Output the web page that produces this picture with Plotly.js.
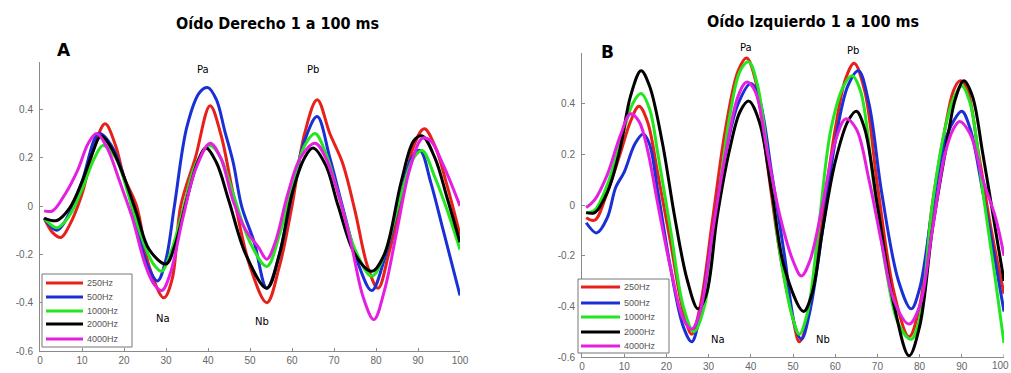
<!DOCTYPE html>
<html>
<head>
<meta charset="utf-8">
<script src="https://cdn.plot.ly/plotly-3.0.1.min.js"></script>
<style>html,body{margin:0;padding:0;background:#fff;}#chart{width:1011px;height:373px;}</style>
</head>
<body>
<div id="chart"></div>
<script>
// ---------- DATA ----------
const seriesNames = ["250Hz", "500Hz", "1000Hz", "2000Hz", "4000Hz"];
const seriesColors = ["#e8201a", "#1a2fd6", "#22e61e", "#000000", "#e41fe0"];
const titleA = "Oído Derecho 1 a 100 ms";
const titleB = "Oído Izquierdo 1 a 100 ms";
const xTicks = [0, 10, 20, 30, 40, 50, 60, 70, 80, 90, 100];
const yTicks = [-0.6, -0.4, -0.2, 0, 0.2, 0.4];
const yTickText = ["-0.6", "-0.4", "-0.2", "0", "0.2", "0.4"];

// Panel A (Oído Derecho)
const A_250_x = [1,3,5,7,10,13,15.5,18,20,23,26,29.5,31.5,33.5,37,40.5,43,46,50,54,57,60,63,66,69,72,75,78,80.5,83,86,89,91.5,94,97,100];
const A_250_y = [-0.05,-0.11,-0.13,-0.08,0.05,0.25,0.34,0.25,0.12,0.0,-0.25,-0.38,-0.3,0.0,0.2,0.415,0.3,0.05,-0.25,-0.40,-0.25,0.0,0.3,0.44,0.3,0.18,-0.02,-0.25,-0.34,-0.2,0.02,0.25,0.32,0.25,0.08,-0.12];
const A_500_x = [1,4,7,10,14,17,20,23,25.5,28,30,32,35,38,40,42,44,46,48,51,54,57,60,63,66,69,72,76,79,82,86,88.5,90.5,93,96,100];
const A_500_y = [-0.05,-0.1,-0.03,0.1,0.3,0.25,0.12,-0.08,-0.24,-0.31,-0.22,0.0,0.33,0.47,0.49,0.44,0.31,0.18,0.0,-0.15,-0.34,-0.2,0.05,0.27,0.37,0.2,0.0,-0.25,-0.35,-0.22,0.05,0.2,0.23,0.1,-0.1,-0.37];
const A_1000_x = [1,4,7,10,13,15,18,21,24,27,29,31,34,37,40.5,43,46,50,54,57,60,63,65.5,68,71,75,79,82,86,89,91,94,97,100];
const A_1000_y = [-0.05,-0.09,-0.04,0.07,0.2,0.25,0.2,0.05,-0.12,-0.24,-0.27,-0.2,-0.02,0.17,0.25,0.2,0.05,-0.15,-0.25,-0.12,0.08,0.25,0.3,0.22,0.05,-0.18,-0.29,-0.2,0.05,0.2,0.23,0.12,-0.02,-0.18];
const A_2000_x = [1,4,7,10,12.5,14.5,17,20,23,26,30,32,35,37.5,39.5,42,45,49,54,57,60,63,65,68,71,75,79,82,86,89,91,94,97,100];
const A_2000_y = [-0.05,-0.06,-0.01,0.1,0.22,0.29,0.24,0.12,-0.03,-0.18,-0.24,-0.17,0.03,0.18,0.24,0.18,0.02,-0.2,-0.34,-0.2,0.05,0.2,0.24,0.17,0.0,-0.2,-0.27,-0.2,0.1,0.27,0.29,0.2,0.03,-0.15];
const A_4000_x = [1,3,6,9,11.5,13.5,16,19,22,25,27,29,31,34,37,40.5,43,46,49,52,54,56,59,62,65.5,68,71,74,77,79.5,82,85,88,91,93,96,100];
const A_4000_y = [-0.02,-0.02,0.05,0.15,0.26,0.3,0.24,0.1,-0.05,-0.24,-0.32,-0.35,-0.28,-0.05,0.15,0.26,0.2,0.02,-0.1,-0.17,-0.22,-0.15,0.05,0.2,0.26,0.2,0.05,-0.15,-0.38,-0.47,-0.35,-0.1,0.15,0.28,0.27,0.17,0.0];

// Panel B (Oído Izquierdo)
const B_250_x = [1,3,6,9,11.5,13.5,15.5,18,21,24,26,28,31,34,37,39,41,44,47,50,51.5,53.5,57,60,62.5,64.5,67,70,74,77.5,80,83,86,88,89.5,91,94,97,100];
const B_250_y = [-0.05,-0.06,0.05,0.2,0.33,0.39,0.33,0.12,-0.15,-0.42,-0.51,-0.4,-0.05,0.3,0.53,0.58,0.5,0.15,-0.2,-0.45,-0.54,-0.45,-0.05,0.3,0.5,0.56,0.45,0.08,-0.35,-0.52,-0.4,0.0,0.3,0.45,0.49,0.47,0.2,-0.1,-0.35];
const B_500_x = [1,3.5,6,8,10,12.5,14.5,16,18,21,24,26,28,31,34,37,40,42,45,48,50.5,52,54,57,60,63,65.5,68,71,75,78,80,83,86,88,90,92,95,100];
const B_500_y = [-0.07,-0.11,-0.05,0.07,0.13,0.24,0.28,0.24,0.05,-0.25,-0.48,-0.54,-0.43,-0.1,0.2,0.4,0.48,0.42,0.12,-0.2,-0.48,-0.53,-0.42,-0.1,0.25,0.47,0.53,0.4,0.05,-0.3,-0.41,-0.33,-0.02,0.25,0.33,0.37,0.3,0.05,-0.42];
const B_1000_x = [1,3,6,9,12,14,16,18,21,24,26.5,29,32,35,37.5,39.5,41.5,44,47,50,51.5,53.5,56,59,62,64,66,69,72,75,78,80,83,86,88,90,92,95,98,100];
const B_1000_y = [-0.03,-0.02,0.08,0.24,0.4,0.44,0.38,0.2,-0.1,-0.4,-0.5,-0.4,-0.02,0.35,0.53,0.565,0.48,0.2,-0.2,-0.45,-0.51,-0.42,-0.1,0.3,0.47,0.51,0.45,0.1,-0.25,-0.47,-0.53,-0.45,0.0,0.3,0.42,0.47,0.4,0.05,-0.3,-0.545];
const B_2000_x = [1,3,6,9,11.5,14,16,19,22,25,27.5,29.5,32,35,37.5,39.5,42,45,48,52.5,54.5,57,60,63,65,67,70,74,77.5,80,83,86,88.5,90.5,92.5,95,98,100];
const B_2000_y = [-0.03,-0.03,0.05,0.22,0.43,0.53,0.47,0.25,-0.05,-0.3,-0.41,-0.35,-0.05,0.22,0.37,0.41,0.33,0.05,-0.25,-0.42,-0.35,-0.1,0.17,0.33,0.37,0.3,0.0,-0.4,-0.595,-0.48,-0.1,0.2,0.42,0.49,0.43,0.2,-0.1,-0.3];
const B_4000_x = [1,3,6,9,11.5,13.5,15.5,18,21,24,26,28,31,34,37,39,41,44,47,50,52,54,57,60,62.5,65,68,71,74,77.5,80,83,86,88,89.5,92,95,98,100];
const B_4000_y = [-0.01,0.02,0.12,0.27,0.36,0.33,0.22,0.0,-0.25,-0.45,-0.49,-0.42,-0.1,0.2,0.43,0.485,0.45,0.2,-0.05,-0.22,-0.28,-0.22,0.0,0.25,0.34,0.3,0.1,-0.15,-0.38,-0.47,-0.4,-0.1,0.2,0.3,0.33,0.28,0.1,-0.05,-0.2];

const panelA = [[A_250_x, A_250_y], [A_500_x, A_500_y], [A_1000_x, A_1000_y], [A_2000_x, A_2000_y], [A_4000_x, A_4000_y]];
const panelB = [[B_250_x, B_250_y], [B_500_x, B_500_y], [B_1000_x, B_1000_y], [B_2000_x, B_2000_y], [B_4000_x, B_4000_y]];

// ---------- TRACES ----------
const traces = [];
panelA.forEach((s, i) => traces.push({
  x: s[0], y: s[1], type: 'scatter', mode: 'lines', name: seriesNames[i],
  xaxis: 'x', yaxis: 'y', showlegend: false,
  line: {color: seriesColors[i], width: 3, shape: 'spline', smoothing: 1}
}));
panelB.forEach((s, i) => traces.push({
  x: s[0], y: s[1], type: 'scatter', mode: 'lines', name: seriesNames[i],
  xaxis: 'x2', yaxis: 'y2', showlegend: false,
  line: {color: seriesColors[i], width: 3, shape: 'spline', smoothing: 1}
}));

const W = 1011, H = 373;
const px = v => v / W;
const py = v => (H - v) / H;

const tickFont = {family: 'Liberation Sans, Arial, sans-serif', size: 10, color: '#666'};
function xax(domain, anchor, ticks) {
  return {domain: domain, anchor: anchor, range: [0, 100], tickvals: ticks, ticktext: ticks.map(String),
    showgrid: false, zeroline: false, showline: true, linecolor: '#8a8a8a', linewidth: 1,
    ticks: 'inside', ticklen: 3, tickcolor: '#8a8a8a', tickfont: tickFont, mirror: false,
    ticklabeloverflow: 'allow', fixedrange: true};
}
function yax(domain, anchor, range) {
  return {domain: domain, anchor: anchor, range: range, tickvals: yTicks, ticktext: yTickText,
    showgrid: false, zeroline: false, showline: true, linecolor: '#8a8a8a', linewidth: 1,
    ticks: 'inside', ticklen: 3, tickcolor: '#8a8a8a', tickfont: tickFont, ticklabelstandoff: 4,
    ticklabeloverflow: 'allow', fixedrange: true};
}

const annFont = {family: 'DejaVu Sans, sans-serif', size: 10, color: '#000'};
function lbl(text, x, y, size) {
  return {text: text, xref: 'paper', yref: 'paper', x: px(x), y: py(y), showarrow: false,
    xanchor: 'center', yanchor: 'middle', font: size ? {family: 'DejaVu Sans, sans-serif', size: size, color: '#000'} : annFont};
}

const xTicksB = xTicks.slice(0, -1);
const lastTickB = xTicks[xTicks.length - 1];

const annotations = [
  {text: '<b>' + titleA + '</b>', xref: 'paper', yref: 'paper', x: px(277), y: py(23), showarrow: false,
    xanchor: 'center', yanchor: 'middle', font: {family: 'DejaVu Sans Condensed, DejaVu Sans, sans-serif', size: 16, color: '#000'}},
  {text: '<b>' + titleB + '</b>', xref: 'paper', yref: 'paper', x: px(813), y: py(21), showarrow: false,
    xanchor: 'center', yanchor: 'middle', font: {family: 'DejaVu Sans Condensed, DejaVu Sans, sans-serif', size: 16, color: '#000'}},
  lbl('<b>A</b>', 64, 50, 17),
  lbl('<b>B</b>', 607, 52, 17),
  lbl('Pa', 203, 69), lbl('Pb', 313, 69), lbl('Na', 163, 318), lbl('Nb', 262, 321),
  lbl('Pa', 746, 48), lbl('Pb', 853, 51), lbl('Na', 718, 339), lbl('Nb', 823, 339),
  // last tick label of panel B, kept inside the right edge of the page
  {text: String(lastTickB), xref: 'paper', yref: 'paper', x: px(1010), y: py(357), yshift: -2, showarrow: false,
    xanchor: 'right', yanchor: 'top', borderpad: 0, font: tickFont}
];
const shapes = [];

// Legend boxes drawn from seriesNames / seriesColors
function addLegend(box, rows, lineX0, lineX1, textX) {
  shapes.push({type: 'rect', xref: 'paper', yref: 'paper', x0: px(box[0]), x1: px(box[1]), y0: py(box[3]), y1: py(box[2]),
    line: {color: '#777', width: 1}, fillcolor: '#fff', layer: 'above'});
  seriesNames.forEach((n, i) => {
    shapes.push({type: 'line', xref: 'paper', yref: 'paper', x0: px(lineX0), x1: px(lineX1), y0: py(rows[i]), y1: py(rows[i]),
      line: {color: seriesColors[i], width: 3}, layer: 'above'});
    annotations.push({text: n, xref: 'paper', yref: 'paper', x: px(textX), y: py(rows[i]), showarrow: false,
      xanchor: 'left', yanchor: 'middle', font: {family: 'Liberation Sans, Arial, sans-serif', size: 9, color: '#555'}});
  });
}
addLegend([42, 132, 274, 347], [283, 297, 311, 324, 339], 46, 83, 85);
addLegend([578, 669, 279, 353], [287, 303, 317, 332, 346], 581, 620, 622);

const layout = {
  width: W, height: H,
  margin: {l: 0, r: 0, t: 0, b: 0},
  paper_bgcolor: '#fff', plot_bgcolor: '#fff',
  showlegend: false,
  xaxis: xax([px(40), px(460)], 'y', xTicks),
  yaxis: yax([py(351), py(62)], 'x', [-0.6, 0.596]),
  xaxis2: xax([px(582), px(1004)], 'y2', xTicksB),
  yaxis2: yax([py(357), py(53)], 'x2', [-0.6, 0.6]),
  annotations: annotations,
  shapes: shapes.concat([{type: 'line', xref: 'x2', yref: 'paper', x0: lastTickB, x1: lastTickB,
    y0: py(357), y1: py(354), line: {color: '#8a8a8a', width: 1}}])
};

Plotly.newPlot('chart', traces, layout, {staticPlot: true, displayModeBar: false});
</script>
</body>
</html>
